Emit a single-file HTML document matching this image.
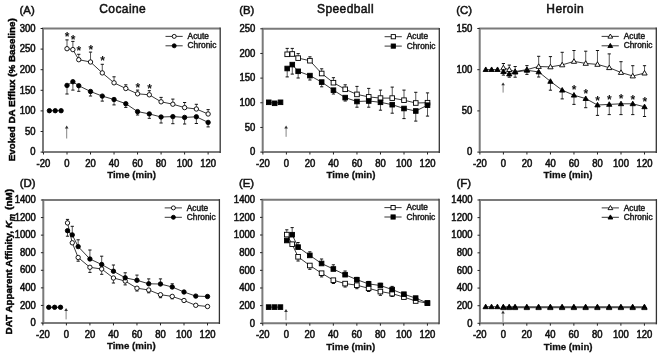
<!DOCTYPE html>
<html><head><meta charset="utf-8"><style>
html,body{margin:0;padding:0;background:#fff;width:662px;height:358px;overflow:hidden}
svg{display:block;will-change:transform;filter:blur(0.3px)}
text{font-family:"Liberation Sans", sans-serif;fill:#111}
.tk{font-size:10.2px;stroke:#111;stroke-width:0.55px}
.xl{font-size:9.7px;font-weight:bold;stroke:#111;stroke-width:0.3px}
.yl{font-size:9.85px;font-weight:bold;stroke:#000;stroke-width:0.45px;fill:#000}
.lt{font-size:11.4px;stroke:#111;stroke-width:0.5px}
.ti{font-size:12px;letter-spacing:0.4px;stroke:#111;stroke-width:0.5px}
.lg{font-size:8.35px;stroke:#222;stroke-width:0.45px}
.st{font-size:12px;font-weight:bold}
</style></head><body>
<svg width="662" height="358" viewBox="0 0 662 358">
<rect width="662" height="358" fill="#fff"/>
<path d="M220.20,28.50 H43.00 V152.10 H220.20" fill="none" stroke="#7a7a7a" stroke-width="2.0"/>
<line x1="220.20" y1="27.60" x2="220.20" y2="153.10" stroke="#333" stroke-width="1.3"/>
<line x1="40.60" y1="152.10" x2="43.00" y2="152.10" stroke="#222" stroke-width="1"/>
<text x="35.60" y="155.30" class="tk" text-anchor="end" textLength="5.28" lengthAdjust="spacingAndGlyphs">0</text>
<line x1="40.60" y1="131.50" x2="43.00" y2="131.50" stroke="#222" stroke-width="1"/>
<text x="35.60" y="134.70" class="tk" text-anchor="end" textLength="10.56" lengthAdjust="spacingAndGlyphs">50</text>
<line x1="40.60" y1="110.90" x2="43.00" y2="110.90" stroke="#222" stroke-width="1"/>
<text x="35.60" y="114.10" class="tk" text-anchor="end" textLength="15.85" lengthAdjust="spacingAndGlyphs">100</text>
<line x1="40.60" y1="90.30" x2="43.00" y2="90.30" stroke="#222" stroke-width="1"/>
<text x="35.60" y="93.50" class="tk" text-anchor="end" textLength="15.85" lengthAdjust="spacingAndGlyphs">150</text>
<line x1="40.60" y1="69.70" x2="43.00" y2="69.70" stroke="#222" stroke-width="1"/>
<text x="35.60" y="72.90" class="tk" text-anchor="end" textLength="15.85" lengthAdjust="spacingAndGlyphs">200</text>
<line x1="40.60" y1="49.10" x2="43.00" y2="49.10" stroke="#222" stroke-width="1"/>
<text x="35.60" y="52.30" class="tk" text-anchor="end" textLength="15.85" lengthAdjust="spacingAndGlyphs">250</text>
<line x1="40.60" y1="28.50" x2="43.00" y2="28.50" stroke="#222" stroke-width="1"/>
<text x="35.60" y="31.70" class="tk" text-anchor="end" textLength="15.85" lengthAdjust="spacingAndGlyphs">300</text>
<line x1="43.48" y1="152.10" x2="43.48" y2="154.50" stroke="#222" stroke-width="1"/>
<text x="43.48" y="166.80" class="tk" text-anchor="middle" textLength="13.73" lengthAdjust="spacingAndGlyphs">-20</text>
<line x1="67.00" y1="152.10" x2="67.00" y2="154.50" stroke="#222" stroke-width="1"/>
<text x="67.00" y="166.80" class="tk" text-anchor="middle" textLength="5.28" lengthAdjust="spacingAndGlyphs">0</text>
<line x1="90.52" y1="152.10" x2="90.52" y2="154.50" stroke="#222" stroke-width="1"/>
<text x="90.52" y="166.80" class="tk" text-anchor="middle" textLength="10.56" lengthAdjust="spacingAndGlyphs">20</text>
<line x1="114.04" y1="152.10" x2="114.04" y2="154.50" stroke="#222" stroke-width="1"/>
<text x="114.04" y="166.80" class="tk" text-anchor="middle" textLength="10.56" lengthAdjust="spacingAndGlyphs">40</text>
<line x1="137.56" y1="152.10" x2="137.56" y2="154.50" stroke="#222" stroke-width="1"/>
<text x="137.56" y="166.80" class="tk" text-anchor="middle" textLength="10.56" lengthAdjust="spacingAndGlyphs">60</text>
<line x1="161.08" y1="152.10" x2="161.08" y2="154.50" stroke="#222" stroke-width="1"/>
<text x="161.08" y="166.80" class="tk" text-anchor="middle" textLength="10.56" lengthAdjust="spacingAndGlyphs">80</text>
<line x1="184.60" y1="152.10" x2="184.60" y2="154.50" stroke="#222" stroke-width="1"/>
<text x="184.60" y="166.80" class="tk" text-anchor="middle" textLength="15.85" lengthAdjust="spacingAndGlyphs">100</text>
<line x1="208.12" y1="152.10" x2="208.12" y2="154.50" stroke="#222" stroke-width="1"/>
<text x="208.12" y="166.80" class="tk" text-anchor="middle" textLength="15.85" lengthAdjust="spacingAndGlyphs">120</text>
<text x="131.60" y="178.30" class="xl" text-anchor="middle">Time (min)</text>
<text x="19.50" y="13.60" class="lt">(A)</text>
<text x="122.70" y="12.7" class="ti" text-anchor="middle">Cocaine</text>
<line x1="66.70" y1="127.10" x2="66.70" y2="138.50" stroke="#777" stroke-width="0.9"/>
<path d="M64.90,128.40 L66.70,125.60 L68.50,128.40 Z" fill="#333"/>
<polyline points="67.00,85.40 72.88,81.70 78.76,85.70 90.52,91.50 102.28,96.10 114.04,99.50 125.80,103.70 137.56,111.60 149.32,113.90 161.08,117.00 172.84,116.60 184.60,117.40 196.36,116.80 208.12,122.40" fill="none" stroke="#222" stroke-width="0.9"/>
<polyline points="67.00,48.70 72.88,49.60 78.76,59.70 90.52,62.00 102.28,72.90 114.04,82.80 125.80,88.50 137.56,93.80 149.32,94.80 161.08,101.80 172.84,104.20 184.60,107.60 196.36,109.00 208.12,114.00" fill="none" stroke="#222" stroke-width="0.9"/>
<line x1="67.00" y1="85.40" x2="67.00" y2="94.00" stroke="#444" stroke-width="0.9"/>
<line x1="65.40" y1="94.00" x2="68.60" y2="94.00" stroke="#111" stroke-width="1"/>
<line x1="72.88" y1="81.70" x2="72.88" y2="90.10" stroke="#444" stroke-width="0.9"/>
<line x1="71.28" y1="90.10" x2="74.48" y2="90.10" stroke="#111" stroke-width="1"/>
<line x1="78.76" y1="85.70" x2="78.76" y2="91.30" stroke="#444" stroke-width="0.9"/>
<line x1="77.16" y1="91.30" x2="80.36" y2="91.30" stroke="#111" stroke-width="1"/>
<line x1="90.52" y1="91.50" x2="90.52" y2="96.00" stroke="#444" stroke-width="0.9"/>
<line x1="88.92" y1="96.00" x2="92.12" y2="96.00" stroke="#111" stroke-width="1"/>
<line x1="102.28" y1="96.10" x2="102.28" y2="101.10" stroke="#444" stroke-width="0.9"/>
<line x1="100.68" y1="101.10" x2="103.88" y2="101.10" stroke="#111" stroke-width="1"/>
<line x1="114.04" y1="99.50" x2="114.04" y2="104.90" stroke="#444" stroke-width="0.9"/>
<line x1="112.44" y1="104.90" x2="115.64" y2="104.90" stroke="#111" stroke-width="1"/>
<line x1="125.80" y1="103.70" x2="125.80" y2="107.40" stroke="#444" stroke-width="0.9"/>
<line x1="124.20" y1="107.40" x2="127.40" y2="107.40" stroke="#111" stroke-width="1"/>
<line x1="137.56" y1="111.60" x2="137.56" y2="115.00" stroke="#444" stroke-width="0.9"/>
<line x1="135.96" y1="115.00" x2="139.16" y2="115.00" stroke="#111" stroke-width="1"/>
<line x1="149.32" y1="113.90" x2="149.32" y2="118.30" stroke="#444" stroke-width="0.9"/>
<line x1="147.72" y1="118.30" x2="150.92" y2="118.30" stroke="#111" stroke-width="1"/>
<line x1="161.08" y1="117.00" x2="161.08" y2="123.00" stroke="#444" stroke-width="0.9"/>
<line x1="159.48" y1="123.00" x2="162.68" y2="123.00" stroke="#111" stroke-width="1"/>
<line x1="172.84" y1="116.60" x2="172.84" y2="123.70" stroke="#444" stroke-width="0.9"/>
<line x1="171.24" y1="123.70" x2="174.44" y2="123.70" stroke="#111" stroke-width="1"/>
<line x1="184.60" y1="117.40" x2="184.60" y2="124.00" stroke="#444" stroke-width="0.9"/>
<line x1="183.00" y1="124.00" x2="186.20" y2="124.00" stroke="#111" stroke-width="1"/>
<line x1="196.36" y1="116.80" x2="196.36" y2="123.50" stroke="#444" stroke-width="0.9"/>
<line x1="194.76" y1="123.50" x2="197.96" y2="123.50" stroke="#111" stroke-width="1"/>
<line x1="208.12" y1="122.40" x2="208.12" y2="126.90" stroke="#444" stroke-width="0.9"/>
<line x1="206.52" y1="126.90" x2="209.72" y2="126.90" stroke="#111" stroke-width="1"/>
<line x1="67.00" y1="48.70" x2="67.00" y2="39.90" stroke="#444" stroke-width="0.9"/>
<line x1="65.40" y1="39.90" x2="68.60" y2="39.90" stroke="#111" stroke-width="1"/>
<line x1="72.88" y1="49.60" x2="72.88" y2="41.40" stroke="#444" stroke-width="0.9"/>
<line x1="71.28" y1="41.40" x2="74.48" y2="41.40" stroke="#111" stroke-width="1"/>
<line x1="78.76" y1="59.70" x2="78.76" y2="54.30" stroke="#444" stroke-width="0.9"/>
<line x1="77.16" y1="54.30" x2="80.36" y2="54.30" stroke="#111" stroke-width="1"/>
<line x1="90.52" y1="62.00" x2="90.52" y2="52.10" stroke="#444" stroke-width="0.9"/>
<line x1="88.92" y1="52.10" x2="92.12" y2="52.10" stroke="#111" stroke-width="1"/>
<line x1="102.28" y1="72.90" x2="102.28" y2="64.30" stroke="#444" stroke-width="0.9"/>
<line x1="100.68" y1="64.30" x2="103.88" y2="64.30" stroke="#111" stroke-width="1"/>
<line x1="114.04" y1="82.80" x2="114.04" y2="76.80" stroke="#444" stroke-width="0.9"/>
<line x1="112.44" y1="76.80" x2="115.64" y2="76.80" stroke="#111" stroke-width="1"/>
<line x1="125.80" y1="88.50" x2="125.80" y2="84.80" stroke="#444" stroke-width="0.9"/>
<line x1="124.20" y1="84.80" x2="127.40" y2="84.80" stroke="#111" stroke-width="1"/>
<line x1="137.56" y1="93.80" x2="137.56" y2="90.10" stroke="#444" stroke-width="0.9"/>
<line x1="135.96" y1="90.10" x2="139.16" y2="90.10" stroke="#111" stroke-width="1"/>
<line x1="149.32" y1="94.80" x2="149.32" y2="90.70" stroke="#444" stroke-width="0.9"/>
<line x1="147.72" y1="90.70" x2="150.92" y2="90.70" stroke="#111" stroke-width="1"/>
<line x1="161.08" y1="101.80" x2="161.08" y2="97.40" stroke="#444" stroke-width="0.9"/>
<line x1="159.48" y1="97.40" x2="162.68" y2="97.40" stroke="#111" stroke-width="1"/>
<line x1="172.84" y1="104.20" x2="172.84" y2="99.10" stroke="#444" stroke-width="0.9"/>
<line x1="171.24" y1="99.10" x2="174.44" y2="99.10" stroke="#111" stroke-width="1"/>
<line x1="184.60" y1="107.60" x2="184.60" y2="102.50" stroke="#444" stroke-width="0.9"/>
<line x1="183.00" y1="102.50" x2="186.20" y2="102.50" stroke="#111" stroke-width="1"/>
<line x1="196.36" y1="109.00" x2="196.36" y2="104.30" stroke="#444" stroke-width="0.9"/>
<line x1="194.76" y1="104.30" x2="197.96" y2="104.30" stroke="#111" stroke-width="1"/>
<line x1="208.12" y1="114.00" x2="208.12" y2="109.60" stroke="#444" stroke-width="0.9"/>
<line x1="206.52" y1="109.60" x2="209.72" y2="109.60" stroke="#111" stroke-width="1"/>
<polyline points="49.36,110.70 55.24,110.70 61.12,110.70" fill="none" stroke="#222" stroke-width="0.9"/>
<circle cx="67.00" cy="48.70" r="2.20" fill="#fff" stroke="#000" stroke-width="0.9"/>
<circle cx="72.88" cy="49.60" r="2.20" fill="#fff" stroke="#000" stroke-width="0.9"/>
<circle cx="78.76" cy="59.70" r="2.20" fill="#fff" stroke="#000" stroke-width="0.9"/>
<circle cx="90.52" cy="62.00" r="2.20" fill="#fff" stroke="#000" stroke-width="0.9"/>
<circle cx="102.28" cy="72.90" r="2.20" fill="#fff" stroke="#000" stroke-width="0.9"/>
<circle cx="114.04" cy="82.80" r="2.20" fill="#fff" stroke="#000" stroke-width="0.9"/>
<circle cx="125.80" cy="88.50" r="2.20" fill="#fff" stroke="#000" stroke-width="0.9"/>
<circle cx="137.56" cy="93.80" r="2.20" fill="#fff" stroke="#000" stroke-width="0.9"/>
<circle cx="149.32" cy="94.80" r="2.20" fill="#fff" stroke="#000" stroke-width="0.9"/>
<circle cx="161.08" cy="101.80" r="2.20" fill="#fff" stroke="#000" stroke-width="0.9"/>
<circle cx="172.84" cy="104.20" r="2.20" fill="#fff" stroke="#000" stroke-width="0.9"/>
<circle cx="184.60" cy="107.60" r="2.20" fill="#fff" stroke="#000" stroke-width="0.9"/>
<circle cx="196.36" cy="109.00" r="2.20" fill="#fff" stroke="#000" stroke-width="0.9"/>
<circle cx="208.12" cy="114.00" r="2.20" fill="#fff" stroke="#000" stroke-width="0.9"/>
<circle cx="67.00" cy="85.40" r="2.20" fill="#000" stroke="#000" stroke-width="0.9"/>
<circle cx="72.88" cy="81.70" r="2.20" fill="#000" stroke="#000" stroke-width="0.9"/>
<circle cx="78.76" cy="85.70" r="2.20" fill="#000" stroke="#000" stroke-width="0.9"/>
<circle cx="90.52" cy="91.50" r="2.20" fill="#000" stroke="#000" stroke-width="0.9"/>
<circle cx="102.28" cy="96.10" r="2.20" fill="#000" stroke="#000" stroke-width="0.9"/>
<circle cx="114.04" cy="99.50" r="2.20" fill="#000" stroke="#000" stroke-width="0.9"/>
<circle cx="125.80" cy="103.70" r="2.20" fill="#000" stroke="#000" stroke-width="0.9"/>
<circle cx="137.56" cy="111.60" r="2.20" fill="#000" stroke="#000" stroke-width="0.9"/>
<circle cx="149.32" cy="113.90" r="2.20" fill="#000" stroke="#000" stroke-width="0.9"/>
<circle cx="161.08" cy="117.00" r="2.20" fill="#000" stroke="#000" stroke-width="0.9"/>
<circle cx="172.84" cy="116.60" r="2.20" fill="#000" stroke="#000" stroke-width="0.9"/>
<circle cx="184.60" cy="117.40" r="2.20" fill="#000" stroke="#000" stroke-width="0.9"/>
<circle cx="196.36" cy="116.80" r="2.20" fill="#000" stroke="#000" stroke-width="0.9"/>
<circle cx="208.12" cy="122.40" r="2.20" fill="#000" stroke="#000" stroke-width="0.9"/>
<circle cx="49.36" cy="110.70" r="2.20" fill="#000" stroke="#000" stroke-width="0.9"/>
<circle cx="55.24" cy="110.70" r="2.20" fill="#000" stroke="#000" stroke-width="0.9"/>
<circle cx="61.12" cy="110.70" r="2.20" fill="#000" stroke="#000" stroke-width="0.9"/>
<text x="67.20" y="40.50" class="st" text-anchor="middle">*</text>
<text x="73.08" y="43.50" class="st" text-anchor="middle">*</text>
<text x="78.96" y="54.60" class="st" text-anchor="middle">*</text>
<text x="90.72" y="54.20" class="st" text-anchor="middle">*</text>
<text x="102.48" y="65.20" class="st" text-anchor="middle">*</text>
<text x="137.76" y="91.50" class="st" text-anchor="middle">*</text>
<text x="149.52" y="93.40" class="st" text-anchor="middle">*</text>
<line x1="165.50" y1="36.40" x2="182.70" y2="36.40" stroke="#222" stroke-width="0.9"/>
<circle cx="174.20" cy="36.40" r="2.00" fill="#fff" stroke="#000" stroke-width="0.9"/>
<text x="187.60" y="39.00" class="lg">Acute</text>
<line x1="165.50" y1="45.80" x2="182.70" y2="45.80" stroke="#222" stroke-width="0.9"/>
<circle cx="174.20" cy="45.80" r="2.00" fill="#000" stroke="#000" stroke-width="0.9"/>
<text x="187.60" y="48.40" class="lg">Chronic</text>
<path d="M439.30,28.80 H262.70 V152.10 H439.30" fill="none" stroke="#7a7a7a" stroke-width="2.0"/>
<line x1="439.30" y1="27.90" x2="439.30" y2="153.10" stroke="#333" stroke-width="1.3"/>
<line x1="260.30" y1="152.10" x2="262.70" y2="152.10" stroke="#222" stroke-width="1"/>
<text x="255.30" y="155.30" class="tk" text-anchor="end" textLength="5.28" lengthAdjust="spacingAndGlyphs">0</text>
<line x1="260.30" y1="127.44" x2="262.70" y2="127.44" stroke="#222" stroke-width="1"/>
<text x="255.30" y="130.64" class="tk" text-anchor="end" textLength="10.56" lengthAdjust="spacingAndGlyphs">50</text>
<line x1="260.30" y1="102.78" x2="262.70" y2="102.78" stroke="#222" stroke-width="1"/>
<text x="255.30" y="105.98" class="tk" text-anchor="end" textLength="15.85" lengthAdjust="spacingAndGlyphs">100</text>
<line x1="260.30" y1="78.12" x2="262.70" y2="78.12" stroke="#222" stroke-width="1"/>
<text x="255.30" y="81.32" class="tk" text-anchor="end" textLength="15.85" lengthAdjust="spacingAndGlyphs">150</text>
<line x1="260.30" y1="53.46" x2="262.70" y2="53.46" stroke="#222" stroke-width="1"/>
<text x="255.30" y="56.66" class="tk" text-anchor="end" textLength="15.85" lengthAdjust="spacingAndGlyphs">200</text>
<line x1="260.30" y1="28.80" x2="262.70" y2="28.80" stroke="#222" stroke-width="1"/>
<text x="255.30" y="32.00" class="tk" text-anchor="end" textLength="15.85" lengthAdjust="spacingAndGlyphs">250</text>
<line x1="262.88" y1="152.10" x2="262.88" y2="154.50" stroke="#222" stroke-width="1"/>
<text x="262.88" y="166.80" class="tk" text-anchor="middle" textLength="13.73" lengthAdjust="spacingAndGlyphs">-20</text>
<line x1="286.40" y1="152.10" x2="286.40" y2="154.50" stroke="#222" stroke-width="1"/>
<text x="286.40" y="166.80" class="tk" text-anchor="middle" textLength="5.28" lengthAdjust="spacingAndGlyphs">0</text>
<line x1="309.92" y1="152.10" x2="309.92" y2="154.50" stroke="#222" stroke-width="1"/>
<text x="309.92" y="166.80" class="tk" text-anchor="middle" textLength="10.56" lengthAdjust="spacingAndGlyphs">20</text>
<line x1="333.44" y1="152.10" x2="333.44" y2="154.50" stroke="#222" stroke-width="1"/>
<text x="333.44" y="166.80" class="tk" text-anchor="middle" textLength="10.56" lengthAdjust="spacingAndGlyphs">40</text>
<line x1="356.96" y1="152.10" x2="356.96" y2="154.50" stroke="#222" stroke-width="1"/>
<text x="356.96" y="166.80" class="tk" text-anchor="middle" textLength="10.56" lengthAdjust="spacingAndGlyphs">60</text>
<line x1="380.48" y1="152.10" x2="380.48" y2="154.50" stroke="#222" stroke-width="1"/>
<text x="380.48" y="166.80" class="tk" text-anchor="middle" textLength="10.56" lengthAdjust="spacingAndGlyphs">80</text>
<line x1="404.00" y1="152.10" x2="404.00" y2="154.50" stroke="#222" stroke-width="1"/>
<text x="404.00" y="166.80" class="tk" text-anchor="middle" textLength="15.85" lengthAdjust="spacingAndGlyphs">100</text>
<line x1="427.52" y1="152.10" x2="427.52" y2="154.50" stroke="#222" stroke-width="1"/>
<text x="427.52" y="166.80" class="tk" text-anchor="middle" textLength="15.85" lengthAdjust="spacingAndGlyphs">120</text>
<text x="351.00" y="178.30" class="xl" text-anchor="middle">Time (min)</text>
<text x="239.20" y="13.60" class="lt">(B)</text>
<text x="345.50" y="12.7" class="ti" text-anchor="middle">Speedball</text>
<line x1="286.10" y1="127.10" x2="286.10" y2="136.80" stroke="#777" stroke-width="0.9"/>
<path d="M284.30,128.40 L286.10,125.60 L287.90,128.40 Z" fill="#333"/>
<polyline points="287.20,68.50 292.28,64.60 298.16,71.30 309.92,75.60 321.68,82.10 333.44,90.20 345.20,97.60 356.96,101.50 368.72,101.00 380.48,102.30 392.24,104.70 404.00,108.50 415.76,111.00 427.52,105.20" fill="none" stroke="#222" stroke-width="0.9"/>
<polyline points="287.20,54.30 292.28,54.00 298.16,58.10 309.92,60.70 321.68,73.50 333.44,82.70 345.20,89.30 356.96,94.40 368.72,96.90 380.48,98.10 392.24,98.10 404.00,100.20 415.76,103.00 427.52,102.70" fill="none" stroke="#222" stroke-width="0.9"/>
<line x1="287.20" y1="68.50" x2="287.20" y2="76.90" stroke="#444" stroke-width="0.9"/>
<line x1="285.60" y1="76.90" x2="288.80" y2="76.90" stroke="#111" stroke-width="1"/>
<line x1="292.28" y1="64.60" x2="292.28" y2="74.10" stroke="#444" stroke-width="0.9"/>
<line x1="290.68" y1="74.10" x2="293.88" y2="74.10" stroke="#111" stroke-width="1"/>
<line x1="298.16" y1="71.30" x2="298.16" y2="78.00" stroke="#444" stroke-width="0.9"/>
<line x1="296.56" y1="78.00" x2="299.76" y2="78.00" stroke="#111" stroke-width="1"/>
<line x1="309.92" y1="75.60" x2="309.92" y2="80.00" stroke="#444" stroke-width="0.9"/>
<line x1="308.32" y1="80.00" x2="311.52" y2="80.00" stroke="#111" stroke-width="1"/>
<line x1="321.68" y1="82.10" x2="321.68" y2="86.80" stroke="#444" stroke-width="0.9"/>
<line x1="320.08" y1="86.80" x2="323.28" y2="86.80" stroke="#111" stroke-width="1"/>
<line x1="333.44" y1="90.20" x2="333.44" y2="94.00" stroke="#444" stroke-width="0.9"/>
<line x1="331.84" y1="94.00" x2="335.04" y2="94.00" stroke="#111" stroke-width="1"/>
<line x1="345.20" y1="97.60" x2="345.20" y2="101.00" stroke="#444" stroke-width="0.9"/>
<line x1="343.60" y1="101.00" x2="346.80" y2="101.00" stroke="#111" stroke-width="1"/>
<line x1="356.96" y1="101.50" x2="356.96" y2="107.20" stroke="#444" stroke-width="0.9"/>
<line x1="355.36" y1="107.20" x2="358.56" y2="107.20" stroke="#111" stroke-width="1"/>
<line x1="368.72" y1="101.00" x2="368.72" y2="107.20" stroke="#444" stroke-width="0.9"/>
<line x1="367.12" y1="107.20" x2="370.32" y2="107.20" stroke="#111" stroke-width="1"/>
<line x1="380.48" y1="102.30" x2="380.48" y2="110.20" stroke="#444" stroke-width="0.9"/>
<line x1="378.88" y1="110.20" x2="382.08" y2="110.20" stroke="#111" stroke-width="1"/>
<line x1="392.24" y1="104.70" x2="392.24" y2="113.20" stroke="#444" stroke-width="0.9"/>
<line x1="390.64" y1="113.20" x2="393.84" y2="113.20" stroke="#111" stroke-width="1"/>
<line x1="404.00" y1="108.50" x2="404.00" y2="118.60" stroke="#444" stroke-width="0.9"/>
<line x1="402.40" y1="118.60" x2="405.60" y2="118.60" stroke="#111" stroke-width="1"/>
<line x1="415.76" y1="111.00" x2="415.76" y2="121.10" stroke="#444" stroke-width="0.9"/>
<line x1="414.16" y1="121.10" x2="417.36" y2="121.10" stroke="#111" stroke-width="1"/>
<line x1="427.52" y1="105.20" x2="427.52" y2="116.10" stroke="#444" stroke-width="0.9"/>
<line x1="425.92" y1="116.10" x2="429.12" y2="116.10" stroke="#111" stroke-width="1"/>
<line x1="287.20" y1="54.30" x2="287.20" y2="48.40" stroke="#444" stroke-width="0.9"/>
<line x1="285.60" y1="48.40" x2="288.80" y2="48.40" stroke="#111" stroke-width="1"/>
<line x1="292.28" y1="54.00" x2="292.28" y2="48.40" stroke="#444" stroke-width="0.9"/>
<line x1="290.68" y1="48.40" x2="293.88" y2="48.40" stroke="#111" stroke-width="1"/>
<line x1="298.16" y1="58.10" x2="298.16" y2="53.60" stroke="#444" stroke-width="0.9"/>
<line x1="296.56" y1="53.60" x2="299.76" y2="53.60" stroke="#111" stroke-width="1"/>
<line x1="309.92" y1="60.70" x2="309.92" y2="56.80" stroke="#444" stroke-width="0.9"/>
<line x1="308.32" y1="56.80" x2="311.52" y2="56.80" stroke="#111" stroke-width="1"/>
<line x1="321.68" y1="73.50" x2="321.68" y2="68.80" stroke="#444" stroke-width="0.9"/>
<line x1="320.08" y1="68.80" x2="323.28" y2="68.80" stroke="#111" stroke-width="1"/>
<line x1="333.44" y1="82.70" x2="333.44" y2="77.70" stroke="#444" stroke-width="0.9"/>
<line x1="331.84" y1="77.70" x2="335.04" y2="77.70" stroke="#111" stroke-width="1"/>
<line x1="345.20" y1="89.30" x2="345.20" y2="84.80" stroke="#444" stroke-width="0.9"/>
<line x1="343.60" y1="84.80" x2="346.80" y2="84.80" stroke="#111" stroke-width="1"/>
<line x1="356.96" y1="94.40" x2="356.96" y2="86.40" stroke="#444" stroke-width="0.9"/>
<line x1="355.36" y1="86.40" x2="358.56" y2="86.40" stroke="#111" stroke-width="1"/>
<line x1="368.72" y1="96.90" x2="368.72" y2="88.40" stroke="#444" stroke-width="0.9"/>
<line x1="367.12" y1="88.40" x2="370.32" y2="88.40" stroke="#111" stroke-width="1"/>
<line x1="380.48" y1="98.10" x2="380.48" y2="90.10" stroke="#444" stroke-width="0.9"/>
<line x1="378.88" y1="90.10" x2="382.08" y2="90.10" stroke="#111" stroke-width="1"/>
<line x1="392.24" y1="98.10" x2="392.24" y2="87.10" stroke="#444" stroke-width="0.9"/>
<line x1="390.64" y1="87.10" x2="393.84" y2="87.10" stroke="#111" stroke-width="1"/>
<line x1="404.00" y1="100.20" x2="404.00" y2="90.10" stroke="#444" stroke-width="0.9"/>
<line x1="402.40" y1="90.10" x2="405.60" y2="90.10" stroke="#111" stroke-width="1"/>
<line x1="415.76" y1="103.00" x2="415.76" y2="92.30" stroke="#444" stroke-width="0.9"/>
<line x1="414.16" y1="92.30" x2="417.36" y2="92.30" stroke="#111" stroke-width="1"/>
<line x1="427.52" y1="102.70" x2="427.52" y2="92.90" stroke="#444" stroke-width="0.9"/>
<line x1="425.92" y1="92.90" x2="429.12" y2="92.90" stroke="#111" stroke-width="1"/>
<polyline points="268.76,102.30 274.64,103.30 280.52,102.30" fill="none" stroke="#222" stroke-width="0.9"/>
<rect x="284.89" y="51.99" width="4.62" height="4.62" fill="#fff" stroke="#000" stroke-width="0.9"/>
<rect x="289.97" y="51.69" width="4.62" height="4.62" fill="#fff" stroke="#000" stroke-width="0.9"/>
<rect x="295.85" y="55.79" width="4.62" height="4.62" fill="#fff" stroke="#000" stroke-width="0.9"/>
<rect x="307.61" y="58.39" width="4.62" height="4.62" fill="#fff" stroke="#000" stroke-width="0.9"/>
<rect x="319.37" y="71.19" width="4.62" height="4.62" fill="#fff" stroke="#000" stroke-width="0.9"/>
<rect x="331.13" y="80.39" width="4.62" height="4.62" fill="#fff" stroke="#000" stroke-width="0.9"/>
<rect x="342.89" y="86.99" width="4.62" height="4.62" fill="#fff" stroke="#000" stroke-width="0.9"/>
<rect x="354.65" y="92.09" width="4.62" height="4.62" fill="#fff" stroke="#000" stroke-width="0.9"/>
<rect x="366.41" y="94.59" width="4.62" height="4.62" fill="#fff" stroke="#000" stroke-width="0.9"/>
<rect x="378.17" y="95.79" width="4.62" height="4.62" fill="#fff" stroke="#000" stroke-width="0.9"/>
<rect x="389.93" y="95.79" width="4.62" height="4.62" fill="#fff" stroke="#000" stroke-width="0.9"/>
<rect x="401.69" y="97.89" width="4.62" height="4.62" fill="#fff" stroke="#000" stroke-width="0.9"/>
<rect x="413.45" y="100.69" width="4.62" height="4.62" fill="#fff" stroke="#000" stroke-width="0.9"/>
<rect x="425.21" y="100.39" width="4.62" height="4.62" fill="#fff" stroke="#000" stroke-width="0.9"/>
<rect x="284.89" y="66.19" width="4.62" height="4.62" fill="#000" stroke="#000" stroke-width="0.9"/>
<rect x="289.97" y="62.29" width="4.62" height="4.62" fill="#000" stroke="#000" stroke-width="0.9"/>
<rect x="295.85" y="68.99" width="4.62" height="4.62" fill="#000" stroke="#000" stroke-width="0.9"/>
<rect x="307.61" y="73.29" width="4.62" height="4.62" fill="#000" stroke="#000" stroke-width="0.9"/>
<rect x="319.37" y="79.79" width="4.62" height="4.62" fill="#000" stroke="#000" stroke-width="0.9"/>
<rect x="331.13" y="87.89" width="4.62" height="4.62" fill="#000" stroke="#000" stroke-width="0.9"/>
<rect x="342.89" y="95.29" width="4.62" height="4.62" fill="#000" stroke="#000" stroke-width="0.9"/>
<rect x="354.65" y="99.19" width="4.62" height="4.62" fill="#000" stroke="#000" stroke-width="0.9"/>
<rect x="366.41" y="98.69" width="4.62" height="4.62" fill="#000" stroke="#000" stroke-width="0.9"/>
<rect x="378.17" y="99.99" width="4.62" height="4.62" fill="#000" stroke="#000" stroke-width="0.9"/>
<rect x="389.93" y="102.39" width="4.62" height="4.62" fill="#000" stroke="#000" stroke-width="0.9"/>
<rect x="401.69" y="106.19" width="4.62" height="4.62" fill="#000" stroke="#000" stroke-width="0.9"/>
<rect x="413.45" y="108.69" width="4.62" height="4.62" fill="#000" stroke="#000" stroke-width="0.9"/>
<rect x="425.21" y="102.89" width="4.62" height="4.62" fill="#000" stroke="#000" stroke-width="0.9"/>
<rect x="266.45" y="99.99" width="4.62" height="4.62" fill="#000" stroke="#000" stroke-width="0.9"/>
<rect x="272.33" y="100.99" width="4.62" height="4.62" fill="#000" stroke="#000" stroke-width="0.9"/>
<rect x="278.21" y="99.99" width="4.62" height="4.62" fill="#000" stroke="#000" stroke-width="0.9"/>
<line x1="384.60" y1="36.70" x2="401.80" y2="36.70" stroke="#222" stroke-width="0.9"/>
<rect x="391.20" y="34.60" width="4.20" height="4.20" fill="#fff" stroke="#000" stroke-width="0.9"/>
<text x="406.70" y="39.30" class="lg">Acute</text>
<line x1="384.60" y1="46.10" x2="401.80" y2="46.10" stroke="#222" stroke-width="0.9"/>
<rect x="391.20" y="44.00" width="4.20" height="4.20" fill="#000" stroke="#000" stroke-width="0.9"/>
<text x="406.70" y="48.70" class="lg">Chronic</text>
<path d="M656.30,28.50 H479.70 V152.10 H656.30" fill="none" stroke="#7a7a7a" stroke-width="2.0"/>
<line x1="656.30" y1="27.60" x2="656.30" y2="153.10" stroke="#333" stroke-width="1.3"/>
<line x1="477.30" y1="152.10" x2="479.70" y2="152.10" stroke="#222" stroke-width="1"/>
<text x="472.30" y="155.30" class="tk" text-anchor="end" textLength="5.28" lengthAdjust="spacingAndGlyphs">0</text>
<line x1="477.30" y1="110.90" x2="479.70" y2="110.90" stroke="#222" stroke-width="1"/>
<text x="472.30" y="114.10" class="tk" text-anchor="end" textLength="10.56" lengthAdjust="spacingAndGlyphs">50</text>
<line x1="477.30" y1="69.70" x2="479.70" y2="69.70" stroke="#222" stroke-width="1"/>
<text x="472.30" y="72.90" class="tk" text-anchor="end" textLength="15.85" lengthAdjust="spacingAndGlyphs">100</text>
<line x1="477.30" y1="28.50" x2="479.70" y2="28.50" stroke="#222" stroke-width="1"/>
<text x="472.30" y="31.70" class="tk" text-anchor="end" textLength="15.85" lengthAdjust="spacingAndGlyphs">150</text>
<line x1="479.88" y1="152.10" x2="479.88" y2="154.50" stroke="#222" stroke-width="1"/>
<text x="479.88" y="166.80" class="tk" text-anchor="middle" textLength="13.73" lengthAdjust="spacingAndGlyphs">-20</text>
<line x1="503.40" y1="152.10" x2="503.40" y2="154.50" stroke="#222" stroke-width="1"/>
<text x="503.40" y="166.80" class="tk" text-anchor="middle" textLength="5.28" lengthAdjust="spacingAndGlyphs">0</text>
<line x1="526.92" y1="152.10" x2="526.92" y2="154.50" stroke="#222" stroke-width="1"/>
<text x="526.92" y="166.80" class="tk" text-anchor="middle" textLength="10.56" lengthAdjust="spacingAndGlyphs">20</text>
<line x1="550.44" y1="152.10" x2="550.44" y2="154.50" stroke="#222" stroke-width="1"/>
<text x="550.44" y="166.80" class="tk" text-anchor="middle" textLength="10.56" lengthAdjust="spacingAndGlyphs">40</text>
<line x1="573.96" y1="152.10" x2="573.96" y2="154.50" stroke="#222" stroke-width="1"/>
<text x="573.96" y="166.80" class="tk" text-anchor="middle" textLength="10.56" lengthAdjust="spacingAndGlyphs">60</text>
<line x1="597.48" y1="152.10" x2="597.48" y2="154.50" stroke="#222" stroke-width="1"/>
<text x="597.48" y="166.80" class="tk" text-anchor="middle" textLength="10.56" lengthAdjust="spacingAndGlyphs">80</text>
<line x1="621.00" y1="152.10" x2="621.00" y2="154.50" stroke="#222" stroke-width="1"/>
<text x="621.00" y="166.80" class="tk" text-anchor="middle" textLength="15.85" lengthAdjust="spacingAndGlyphs">100</text>
<line x1="644.52" y1="152.10" x2="644.52" y2="154.50" stroke="#222" stroke-width="1"/>
<text x="644.52" y="166.80" class="tk" text-anchor="middle" textLength="15.85" lengthAdjust="spacingAndGlyphs">120</text>
<text x="568.00" y="178.30" class="xl" text-anchor="middle">Time (min)</text>
<text x="456.20" y="13.60" class="lt">(C)</text>
<text x="565.20" y="12.7" class="ti" text-anchor="middle">Heroin</text>
<line x1="503.10" y1="83.90" x2="503.10" y2="92.60" stroke="#777" stroke-width="0.9"/>
<path d="M501.30,85.20 L503.10,82.40 L504.90,85.20 Z" fill="#333"/>
<polyline points="503.40,71.60 509.28,74.00 515.16,72.10 526.92,70.30 538.68,71.90 550.44,81.40 562.20,90.20 573.96,95.20 585.72,98.60 597.48,105.00 609.24,104.40 621.00,103.80 632.76,103.80 644.52,106.80" fill="none" stroke="#222" stroke-width="0.9"/>
<polyline points="503.40,67.90 509.28,69.60 515.16,71.60 526.92,69.60 538.68,66.50 550.44,66.90 562.20,64.90 573.96,61.40 585.72,63.40 597.48,64.40 609.24,67.70 621.00,72.50 632.76,76.00 644.52,73.10" fill="none" stroke="#222" stroke-width="0.9"/>
<line x1="503.40" y1="71.60" x2="503.40" y2="75.10" stroke="#444" stroke-width="0.9"/>
<line x1="501.80" y1="75.10" x2="505.00" y2="75.10" stroke="#111" stroke-width="1"/>
<line x1="509.28" y1="74.00" x2="509.28" y2="77.20" stroke="#444" stroke-width="0.9"/>
<line x1="507.68" y1="77.20" x2="510.88" y2="77.20" stroke="#111" stroke-width="1"/>
<line x1="515.16" y1="72.10" x2="515.16" y2="77.20" stroke="#444" stroke-width="0.9"/>
<line x1="513.56" y1="77.20" x2="516.76" y2="77.20" stroke="#111" stroke-width="1"/>
<line x1="526.92" y1="70.30" x2="526.92" y2="74.40" stroke="#444" stroke-width="0.9"/>
<line x1="525.32" y1="74.40" x2="528.52" y2="74.40" stroke="#111" stroke-width="1"/>
<line x1="538.68" y1="71.90" x2="538.68" y2="77.00" stroke="#444" stroke-width="0.9"/>
<line x1="537.08" y1="77.00" x2="540.28" y2="77.00" stroke="#111" stroke-width="1"/>
<line x1="550.44" y1="81.40" x2="550.44" y2="90.20" stroke="#444" stroke-width="0.9"/>
<line x1="548.84" y1="90.20" x2="552.04" y2="90.20" stroke="#111" stroke-width="1"/>
<line x1="562.20" y1="90.20" x2="562.20" y2="98.90" stroke="#444" stroke-width="0.9"/>
<line x1="560.60" y1="98.90" x2="563.80" y2="98.90" stroke="#111" stroke-width="1"/>
<line x1="573.96" y1="95.20" x2="573.96" y2="104.40" stroke="#444" stroke-width="0.9"/>
<line x1="572.36" y1="104.40" x2="575.56" y2="104.40" stroke="#111" stroke-width="1"/>
<line x1="585.72" y1="98.60" x2="585.72" y2="107.70" stroke="#444" stroke-width="0.9"/>
<line x1="584.12" y1="107.70" x2="587.32" y2="107.70" stroke="#111" stroke-width="1"/>
<line x1="597.48" y1="105.00" x2="597.48" y2="115.40" stroke="#444" stroke-width="0.9"/>
<line x1="595.88" y1="115.40" x2="599.08" y2="115.40" stroke="#111" stroke-width="1"/>
<line x1="609.24" y1="104.40" x2="609.24" y2="114.60" stroke="#444" stroke-width="0.9"/>
<line x1="607.64" y1="114.60" x2="610.84" y2="114.60" stroke="#111" stroke-width="1"/>
<line x1="621.00" y1="103.80" x2="621.00" y2="114.60" stroke="#444" stroke-width="0.9"/>
<line x1="619.40" y1="114.60" x2="622.60" y2="114.60" stroke="#111" stroke-width="1"/>
<line x1="632.76" y1="103.80" x2="632.76" y2="114.60" stroke="#444" stroke-width="0.9"/>
<line x1="631.16" y1="114.60" x2="634.36" y2="114.60" stroke="#111" stroke-width="1"/>
<line x1="644.52" y1="106.80" x2="644.52" y2="116.50" stroke="#444" stroke-width="0.9"/>
<line x1="642.92" y1="116.50" x2="646.12" y2="116.50" stroke="#111" stroke-width="1"/>
<line x1="503.40" y1="67.90" x2="503.40" y2="63.50" stroke="#444" stroke-width="0.9"/>
<line x1="501.80" y1="63.50" x2="505.00" y2="63.50" stroke="#111" stroke-width="1"/>
<line x1="509.28" y1="69.60" x2="509.28" y2="65.10" stroke="#444" stroke-width="0.9"/>
<line x1="507.68" y1="65.10" x2="510.88" y2="65.10" stroke="#111" stroke-width="1"/>
<line x1="515.16" y1="71.60" x2="515.16" y2="66.50" stroke="#444" stroke-width="0.9"/>
<line x1="513.56" y1="66.50" x2="516.76" y2="66.50" stroke="#111" stroke-width="1"/>
<line x1="526.92" y1="69.60" x2="526.92" y2="65.60" stroke="#444" stroke-width="0.9"/>
<line x1="525.32" y1="65.60" x2="528.52" y2="65.60" stroke="#111" stroke-width="1"/>
<line x1="538.68" y1="66.50" x2="538.68" y2="56.30" stroke="#444" stroke-width="0.9"/>
<line x1="537.08" y1="56.30" x2="540.28" y2="56.30" stroke="#111" stroke-width="1"/>
<line x1="550.44" y1="66.90" x2="550.44" y2="56.60" stroke="#444" stroke-width="0.9"/>
<line x1="548.84" y1="56.60" x2="552.04" y2="56.60" stroke="#111" stroke-width="1"/>
<line x1="562.20" y1="64.90" x2="562.20" y2="52.30" stroke="#444" stroke-width="0.9"/>
<line x1="560.60" y1="52.30" x2="563.80" y2="52.30" stroke="#111" stroke-width="1"/>
<line x1="573.96" y1="61.40" x2="573.96" y2="50.50" stroke="#444" stroke-width="0.9"/>
<line x1="572.36" y1="50.50" x2="575.56" y2="50.50" stroke="#111" stroke-width="1"/>
<line x1="585.72" y1="63.40" x2="585.72" y2="51.20" stroke="#444" stroke-width="0.9"/>
<line x1="584.12" y1="51.20" x2="587.32" y2="51.20" stroke="#111" stroke-width="1"/>
<line x1="597.48" y1="64.40" x2="597.48" y2="50.50" stroke="#444" stroke-width="0.9"/>
<line x1="595.88" y1="50.50" x2="599.08" y2="50.50" stroke="#111" stroke-width="1"/>
<line x1="609.24" y1="67.70" x2="609.24" y2="53.90" stroke="#444" stroke-width="0.9"/>
<line x1="607.64" y1="53.90" x2="610.84" y2="53.90" stroke="#111" stroke-width="1"/>
<line x1="621.00" y1="72.50" x2="621.00" y2="61.70" stroke="#444" stroke-width="0.9"/>
<line x1="619.40" y1="61.70" x2="622.60" y2="61.70" stroke="#111" stroke-width="1"/>
<line x1="632.76" y1="76.00" x2="632.76" y2="65.70" stroke="#444" stroke-width="0.9"/>
<line x1="631.16" y1="65.70" x2="634.36" y2="65.70" stroke="#111" stroke-width="1"/>
<line x1="644.52" y1="73.10" x2="644.52" y2="65.70" stroke="#444" stroke-width="0.9"/>
<line x1="642.92" y1="65.70" x2="646.12" y2="65.70" stroke="#111" stroke-width="1"/>
<polyline points="485.76,69.60 491.64,69.60 497.52,69.60" fill="none" stroke="#222" stroke-width="0.9"/>
<polygon points="503.40,65.26 506.04,69.80 500.76,69.80" fill="#fff" stroke="#000" stroke-width="0.9" stroke-linejoin="miter"/>
<polygon points="509.28,66.96 511.92,71.50 506.64,71.50" fill="#fff" stroke="#000" stroke-width="0.9" stroke-linejoin="miter"/>
<polygon points="515.16,68.96 517.80,73.50 512.52,73.50" fill="#fff" stroke="#000" stroke-width="0.9" stroke-linejoin="miter"/>
<polygon points="526.92,66.96 529.56,71.50 524.28,71.50" fill="#fff" stroke="#000" stroke-width="0.9" stroke-linejoin="miter"/>
<polygon points="538.68,63.86 541.32,68.40 536.04,68.40" fill="#fff" stroke="#000" stroke-width="0.9" stroke-linejoin="miter"/>
<polygon points="550.44,64.26 553.08,68.80 547.80,68.80" fill="#fff" stroke="#000" stroke-width="0.9" stroke-linejoin="miter"/>
<polygon points="562.20,62.26 564.84,66.80 559.56,66.80" fill="#fff" stroke="#000" stroke-width="0.9" stroke-linejoin="miter"/>
<polygon points="573.96,58.76 576.60,63.30 571.32,63.30" fill="#fff" stroke="#000" stroke-width="0.9" stroke-linejoin="miter"/>
<polygon points="585.72,60.76 588.36,65.30 583.08,65.30" fill="#fff" stroke="#000" stroke-width="0.9" stroke-linejoin="miter"/>
<polygon points="597.48,61.76 600.12,66.30 594.84,66.30" fill="#fff" stroke="#000" stroke-width="0.9" stroke-linejoin="miter"/>
<polygon points="609.24,65.06 611.88,69.60 606.60,69.60" fill="#fff" stroke="#000" stroke-width="0.9" stroke-linejoin="miter"/>
<polygon points="621.00,69.86 623.64,74.40 618.36,74.40" fill="#fff" stroke="#000" stroke-width="0.9" stroke-linejoin="miter"/>
<polygon points="632.76,73.36 635.40,77.90 630.12,77.90" fill="#fff" stroke="#000" stroke-width="0.9" stroke-linejoin="miter"/>
<polygon points="644.52,70.46 647.16,75.00 641.88,75.00" fill="#fff" stroke="#000" stroke-width="0.9" stroke-linejoin="miter"/>
<polygon points="503.40,68.96 506.04,73.50 500.76,73.50" fill="#000" stroke="#000" stroke-width="0.9" stroke-linejoin="miter"/>
<polygon points="509.28,71.36 511.92,75.90 506.64,75.90" fill="#000" stroke="#000" stroke-width="0.9" stroke-linejoin="miter"/>
<polygon points="515.16,69.46 517.80,74.00 512.52,74.00" fill="#000" stroke="#000" stroke-width="0.9" stroke-linejoin="miter"/>
<polygon points="526.92,67.66 529.56,72.20 524.28,72.20" fill="#000" stroke="#000" stroke-width="0.9" stroke-linejoin="miter"/>
<polygon points="538.68,69.26 541.32,73.80 536.04,73.80" fill="#000" stroke="#000" stroke-width="0.9" stroke-linejoin="miter"/>
<polygon points="550.44,78.76 553.08,83.30 547.80,83.30" fill="#000" stroke="#000" stroke-width="0.9" stroke-linejoin="miter"/>
<polygon points="562.20,87.56 564.84,92.10 559.56,92.10" fill="#000" stroke="#000" stroke-width="0.9" stroke-linejoin="miter"/>
<polygon points="573.96,92.56 576.60,97.10 571.32,97.10" fill="#000" stroke="#000" stroke-width="0.9" stroke-linejoin="miter"/>
<polygon points="585.72,95.96 588.36,100.50 583.08,100.50" fill="#000" stroke="#000" stroke-width="0.9" stroke-linejoin="miter"/>
<polygon points="597.48,102.36 600.12,106.90 594.84,106.90" fill="#000" stroke="#000" stroke-width="0.9" stroke-linejoin="miter"/>
<polygon points="609.24,101.76 611.88,106.30 606.60,106.30" fill="#000" stroke="#000" stroke-width="0.9" stroke-linejoin="miter"/>
<polygon points="621.00,101.16 623.64,105.70 618.36,105.70" fill="#000" stroke="#000" stroke-width="0.9" stroke-linejoin="miter"/>
<polygon points="632.76,101.16 635.40,105.70 630.12,105.70" fill="#000" stroke="#000" stroke-width="0.9" stroke-linejoin="miter"/>
<polygon points="644.52,104.16 647.16,108.70 641.88,108.70" fill="#000" stroke="#000" stroke-width="0.9" stroke-linejoin="miter"/>
<polygon points="485.76,66.96 488.40,71.50 483.12,71.50" fill="#000" stroke="#000" stroke-width="0.9" stroke-linejoin="miter"/>
<polygon points="491.64,66.96 494.28,71.50 489.00,71.50" fill="#000" stroke="#000" stroke-width="0.9" stroke-linejoin="miter"/>
<polygon points="497.52,66.96 500.16,71.50 494.88,71.50" fill="#000" stroke="#000" stroke-width="0.9" stroke-linejoin="miter"/>
<text x="574.16" y="93.90" class="st" text-anchor="middle">*</text>
<text x="585.92" y="97.60" class="st" text-anchor="middle">*</text>
<text x="597.68" y="104.60" class="st" text-anchor="middle">*</text>
<text x="609.44" y="103.80" class="st" text-anchor="middle">*</text>
<text x="621.20" y="103.40" class="st" text-anchor="middle">*</text>
<text x="632.96" y="103.80" class="st" text-anchor="middle">*</text>
<text x="644.72" y="105.70" class="st" text-anchor="middle">*</text>
<line x1="601.60" y1="36.40" x2="618.80" y2="36.40" stroke="#222" stroke-width="0.9"/>
<polygon points="610.30,34.00 612.70,38.13 607.90,38.13" fill="#fff" stroke="#000" stroke-width="0.9" stroke-linejoin="miter"/>
<text x="623.70" y="39.00" class="lg">Acute</text>
<line x1="601.60" y1="45.80" x2="618.80" y2="45.80" stroke="#222" stroke-width="0.9"/>
<polygon points="610.30,43.40 612.70,47.53 607.90,47.53" fill="#000" stroke="#000" stroke-width="0.9" stroke-linejoin="miter"/>
<text x="623.70" y="48.40" class="lg">Chronic</text>
<path d="M219.40,200.00 H43.30 V323.00 H219.40" fill="none" stroke="#7a7a7a" stroke-width="2.0"/>
<line x1="219.40" y1="199.10" x2="219.40" y2="324.00" stroke="#333" stroke-width="1.3"/>
<line x1="40.90" y1="323.00" x2="43.30" y2="323.00" stroke="#222" stroke-width="1"/>
<text x="35.90" y="326.20" class="tk" text-anchor="end" textLength="5.28" lengthAdjust="spacingAndGlyphs">0</text>
<line x1="40.90" y1="305.43" x2="43.30" y2="305.43" stroke="#222" stroke-width="1"/>
<text x="35.90" y="308.63" class="tk" text-anchor="end" textLength="15.85" lengthAdjust="spacingAndGlyphs">200</text>
<line x1="40.90" y1="287.86" x2="43.30" y2="287.86" stroke="#222" stroke-width="1"/>
<text x="35.90" y="291.06" class="tk" text-anchor="end" textLength="15.85" lengthAdjust="spacingAndGlyphs">400</text>
<line x1="40.90" y1="270.29" x2="43.30" y2="270.29" stroke="#222" stroke-width="1"/>
<text x="35.90" y="273.49" class="tk" text-anchor="end" textLength="15.85" lengthAdjust="spacingAndGlyphs">600</text>
<line x1="40.90" y1="252.71" x2="43.30" y2="252.71" stroke="#222" stroke-width="1"/>
<text x="35.90" y="255.91" class="tk" text-anchor="end" textLength="15.85" lengthAdjust="spacingAndGlyphs">800</text>
<line x1="40.90" y1="235.14" x2="43.30" y2="235.14" stroke="#222" stroke-width="1"/>
<text x="35.90" y="238.34" class="tk" text-anchor="end" textLength="21.13" lengthAdjust="spacingAndGlyphs">1000</text>
<line x1="40.90" y1="217.57" x2="43.30" y2="217.57" stroke="#222" stroke-width="1"/>
<text x="35.90" y="220.77" class="tk" text-anchor="end" textLength="21.13" lengthAdjust="spacingAndGlyphs">1200</text>
<line x1="40.90" y1="200.00" x2="43.30" y2="200.00" stroke="#222" stroke-width="1"/>
<text x="35.90" y="203.20" class="tk" text-anchor="end" textLength="21.13" lengthAdjust="spacingAndGlyphs">1400</text>
<line x1="42.88" y1="323.00" x2="42.88" y2="325.40" stroke="#222" stroke-width="1"/>
<text x="42.88" y="337.70" class="tk" text-anchor="middle" textLength="13.73" lengthAdjust="spacingAndGlyphs">-20</text>
<line x1="66.40" y1="323.00" x2="66.40" y2="325.40" stroke="#222" stroke-width="1"/>
<text x="66.40" y="337.70" class="tk" text-anchor="middle" textLength="5.28" lengthAdjust="spacingAndGlyphs">0</text>
<line x1="89.92" y1="323.00" x2="89.92" y2="325.40" stroke="#222" stroke-width="1"/>
<text x="89.92" y="337.70" class="tk" text-anchor="middle" textLength="10.56" lengthAdjust="spacingAndGlyphs">20</text>
<line x1="113.44" y1="323.00" x2="113.44" y2="325.40" stroke="#222" stroke-width="1"/>
<text x="113.44" y="337.70" class="tk" text-anchor="middle" textLength="10.56" lengthAdjust="spacingAndGlyphs">40</text>
<line x1="136.96" y1="323.00" x2="136.96" y2="325.40" stroke="#222" stroke-width="1"/>
<text x="136.96" y="337.70" class="tk" text-anchor="middle" textLength="10.56" lengthAdjust="spacingAndGlyphs">60</text>
<line x1="160.48" y1="323.00" x2="160.48" y2="325.40" stroke="#222" stroke-width="1"/>
<text x="160.48" y="337.70" class="tk" text-anchor="middle" textLength="10.56" lengthAdjust="spacingAndGlyphs">80</text>
<line x1="184.00" y1="323.00" x2="184.00" y2="325.40" stroke="#222" stroke-width="1"/>
<text x="184.00" y="337.70" class="tk" text-anchor="middle" textLength="15.85" lengthAdjust="spacingAndGlyphs">100</text>
<line x1="207.52" y1="323.00" x2="207.52" y2="325.40" stroke="#222" stroke-width="1"/>
<text x="207.52" y="337.70" class="tk" text-anchor="middle" textLength="15.85" lengthAdjust="spacingAndGlyphs">120</text>
<text x="131.35" y="349.20" class="xl" text-anchor="middle">Time (min)</text>
<text x="19.80" y="187.10" class="lt">(D)</text>
<line x1="66.10" y1="309.60" x2="66.10" y2="319.40" stroke="#777" stroke-width="0.9"/>
<path d="M64.30,310.90 L66.10,308.10 L67.90,310.90 Z" fill="#333"/>
<polyline points="67.50,230.70 72.28,234.90 78.16,246.60 89.92,259.00 101.68,264.50 113.44,271.20 125.20,277.80 136.96,280.30 148.72,283.80 160.48,284.00 172.24,287.00 184.00,292.00 195.76,296.10 207.52,296.50" fill="none" stroke="#222" stroke-width="0.9"/>
<polyline points="67.50,222.90 72.28,242.80 78.16,257.50 89.92,267.30 101.68,269.00 113.44,278.00 125.20,281.00 136.96,288.20 148.72,290.00 160.48,294.70 172.24,296.40 184.00,300.50 195.76,305.30 207.52,306.50" fill="none" stroke="#222" stroke-width="0.9"/>
<line x1="67.50" y1="230.70" x2="67.50" y2="236.20" stroke="#444" stroke-width="0.9"/>
<line x1="65.90" y1="236.20" x2="69.10" y2="236.20" stroke="#111" stroke-width="1"/>
<line x1="72.28" y1="234.90" x2="72.28" y2="226.30" stroke="#444" stroke-width="0.9"/>
<line x1="70.68" y1="226.30" x2="73.88" y2="226.30" stroke="#111" stroke-width="1"/>
<line x1="78.16" y1="246.60" x2="78.16" y2="239.80" stroke="#444" stroke-width="0.9"/>
<line x1="76.56" y1="239.80" x2="79.76" y2="239.80" stroke="#111" stroke-width="1"/>
<line x1="89.92" y1="259.00" x2="89.92" y2="250.00" stroke="#444" stroke-width="0.9"/>
<line x1="88.32" y1="250.00" x2="91.52" y2="250.00" stroke="#111" stroke-width="1"/>
<line x1="101.68" y1="264.50" x2="101.68" y2="256.20" stroke="#444" stroke-width="0.9"/>
<line x1="100.08" y1="256.20" x2="103.28" y2="256.20" stroke="#111" stroke-width="1"/>
<line x1="113.44" y1="271.20" x2="113.44" y2="265.00" stroke="#444" stroke-width="0.9"/>
<line x1="111.84" y1="265.00" x2="115.04" y2="265.00" stroke="#111" stroke-width="1"/>
<line x1="125.20" y1="277.80" x2="125.20" y2="272.80" stroke="#444" stroke-width="0.9"/>
<line x1="123.60" y1="272.80" x2="126.80" y2="272.80" stroke="#111" stroke-width="1"/>
<line x1="136.96" y1="280.30" x2="136.96" y2="275.10" stroke="#444" stroke-width="0.9"/>
<line x1="135.36" y1="275.10" x2="138.56" y2="275.10" stroke="#111" stroke-width="1"/>
<line x1="148.72" y1="283.80" x2="148.72" y2="278.90" stroke="#444" stroke-width="0.9"/>
<line x1="147.12" y1="278.90" x2="150.32" y2="278.90" stroke="#111" stroke-width="1"/>
<line x1="160.48" y1="284.00" x2="160.48" y2="278.90" stroke="#444" stroke-width="0.9"/>
<line x1="158.88" y1="278.90" x2="162.08" y2="278.90" stroke="#111" stroke-width="1"/>
<line x1="172.24" y1="287.00" x2="172.24" y2="283.80" stroke="#444" stroke-width="0.9"/>
<line x1="170.64" y1="283.80" x2="173.84" y2="283.80" stroke="#111" stroke-width="1"/>
<line x1="67.50" y1="222.90" x2="67.50" y2="219.40" stroke="#444" stroke-width="0.9"/>
<line x1="65.90" y1="219.40" x2="69.10" y2="219.40" stroke="#111" stroke-width="1"/>
<line x1="78.16" y1="257.50" x2="78.16" y2="261.20" stroke="#444" stroke-width="0.9"/>
<line x1="76.56" y1="261.20" x2="79.76" y2="261.20" stroke="#111" stroke-width="1"/>
<line x1="89.92" y1="267.30" x2="89.92" y2="272.40" stroke="#444" stroke-width="0.9"/>
<line x1="88.32" y1="272.40" x2="91.52" y2="272.40" stroke="#111" stroke-width="1"/>
<line x1="101.68" y1="269.00" x2="101.68" y2="274.30" stroke="#444" stroke-width="0.9"/>
<line x1="100.08" y1="274.30" x2="103.28" y2="274.30" stroke="#111" stroke-width="1"/>
<line x1="113.44" y1="278.00" x2="113.44" y2="283.00" stroke="#444" stroke-width="0.9"/>
<line x1="111.84" y1="283.00" x2="115.04" y2="283.00" stroke="#111" stroke-width="1"/>
<line x1="125.20" y1="281.00" x2="125.20" y2="284.90" stroke="#444" stroke-width="0.9"/>
<line x1="123.60" y1="284.90" x2="126.80" y2="284.90" stroke="#111" stroke-width="1"/>
<line x1="136.96" y1="288.20" x2="136.96" y2="291.00" stroke="#444" stroke-width="0.9"/>
<line x1="135.36" y1="291.00" x2="138.56" y2="291.00" stroke="#111" stroke-width="1"/>
<line x1="148.72" y1="290.00" x2="148.72" y2="292.80" stroke="#444" stroke-width="0.9"/>
<line x1="147.12" y1="292.80" x2="150.32" y2="292.80" stroke="#111" stroke-width="1"/>
<line x1="160.48" y1="294.70" x2="160.48" y2="297.70" stroke="#444" stroke-width="0.9"/>
<line x1="158.88" y1="297.70" x2="162.08" y2="297.70" stroke="#111" stroke-width="1"/>
<line x1="172.24" y1="296.40" x2="172.24" y2="298.80" stroke="#444" stroke-width="0.9"/>
<line x1="170.64" y1="298.80" x2="173.84" y2="298.80" stroke="#111" stroke-width="1"/>
<polyline points="48.76,307.30 54.64,307.30 60.52,307.30" fill="none" stroke="#222" stroke-width="0.9"/>
<circle cx="67.50" cy="222.90" r="2.20" fill="#fff" stroke="#000" stroke-width="0.9"/>
<circle cx="72.28" cy="242.80" r="2.20" fill="#fff" stroke="#000" stroke-width="0.9"/>
<circle cx="78.16" cy="257.50" r="2.20" fill="#fff" stroke="#000" stroke-width="0.9"/>
<circle cx="89.92" cy="267.30" r="2.20" fill="#fff" stroke="#000" stroke-width="0.9"/>
<circle cx="101.68" cy="269.00" r="2.20" fill="#fff" stroke="#000" stroke-width="0.9"/>
<circle cx="113.44" cy="278.00" r="2.20" fill="#fff" stroke="#000" stroke-width="0.9"/>
<circle cx="125.20" cy="281.00" r="2.20" fill="#fff" stroke="#000" stroke-width="0.9"/>
<circle cx="136.96" cy="288.20" r="2.20" fill="#fff" stroke="#000" stroke-width="0.9"/>
<circle cx="148.72" cy="290.00" r="2.20" fill="#fff" stroke="#000" stroke-width="0.9"/>
<circle cx="160.48" cy="294.70" r="2.20" fill="#fff" stroke="#000" stroke-width="0.9"/>
<circle cx="172.24" cy="296.40" r="2.20" fill="#fff" stroke="#000" stroke-width="0.9"/>
<circle cx="184.00" cy="300.50" r="2.20" fill="#fff" stroke="#000" stroke-width="0.9"/>
<circle cx="195.76" cy="305.30" r="2.20" fill="#fff" stroke="#000" stroke-width="0.9"/>
<circle cx="207.52" cy="306.50" r="2.20" fill="#fff" stroke="#000" stroke-width="0.9"/>
<circle cx="67.50" cy="230.70" r="2.20" fill="#000" stroke="#000" stroke-width="0.9"/>
<circle cx="72.28" cy="234.90" r="2.20" fill="#000" stroke="#000" stroke-width="0.9"/>
<circle cx="78.16" cy="246.60" r="2.20" fill="#000" stroke="#000" stroke-width="0.9"/>
<circle cx="89.92" cy="259.00" r="2.20" fill="#000" stroke="#000" stroke-width="0.9"/>
<circle cx="101.68" cy="264.50" r="2.20" fill="#000" stroke="#000" stroke-width="0.9"/>
<circle cx="113.44" cy="271.20" r="2.20" fill="#000" stroke="#000" stroke-width="0.9"/>
<circle cx="125.20" cy="277.80" r="2.20" fill="#000" stroke="#000" stroke-width="0.9"/>
<circle cx="136.96" cy="280.30" r="2.20" fill="#000" stroke="#000" stroke-width="0.9"/>
<circle cx="148.72" cy="283.80" r="2.20" fill="#000" stroke="#000" stroke-width="0.9"/>
<circle cx="160.48" cy="284.00" r="2.20" fill="#000" stroke="#000" stroke-width="0.9"/>
<circle cx="172.24" cy="287.00" r="2.20" fill="#000" stroke="#000" stroke-width="0.9"/>
<circle cx="184.00" cy="292.00" r="2.20" fill="#000" stroke="#000" stroke-width="0.9"/>
<circle cx="195.76" cy="296.10" r="2.20" fill="#000" stroke="#000" stroke-width="0.9"/>
<circle cx="207.52" cy="296.50" r="2.20" fill="#000" stroke="#000" stroke-width="0.9"/>
<circle cx="48.76" cy="307.30" r="2.20" fill="#000" stroke="#000" stroke-width="0.9"/>
<circle cx="54.64" cy="307.30" r="2.20" fill="#000" stroke="#000" stroke-width="0.9"/>
<circle cx="60.52" cy="307.30" r="2.20" fill="#000" stroke="#000" stroke-width="0.9"/>
<line x1="164.70" y1="207.90" x2="181.90" y2="207.90" stroke="#222" stroke-width="0.9"/>
<circle cx="173.40" cy="207.90" r="2.00" fill="#fff" stroke="#000" stroke-width="0.9"/>
<text x="186.80" y="210.50" class="lg">Acute</text>
<line x1="164.70" y1="217.30" x2="181.90" y2="217.30" stroke="#222" stroke-width="0.9"/>
<circle cx="173.40" cy="217.30" r="2.00" fill="#000" stroke="#000" stroke-width="0.9"/>
<text x="186.80" y="219.90" class="lg">Chronic</text>
<path d="M439.10,199.70 H262.40 V323.30 H439.10" fill="none" stroke="#7a7a7a" stroke-width="2.0"/>
<line x1="439.10" y1="198.80" x2="439.10" y2="324.30" stroke="#333" stroke-width="1.3"/>
<line x1="260.00" y1="323.30" x2="262.40" y2="323.30" stroke="#222" stroke-width="1"/>
<text x="255.00" y="326.50" class="tk" text-anchor="end" textLength="5.28" lengthAdjust="spacingAndGlyphs">0</text>
<line x1="260.00" y1="305.64" x2="262.40" y2="305.64" stroke="#222" stroke-width="1"/>
<text x="255.00" y="308.84" class="tk" text-anchor="end" textLength="15.85" lengthAdjust="spacingAndGlyphs">200</text>
<line x1="260.00" y1="287.99" x2="262.40" y2="287.99" stroke="#222" stroke-width="1"/>
<text x="255.00" y="291.19" class="tk" text-anchor="end" textLength="15.85" lengthAdjust="spacingAndGlyphs">400</text>
<line x1="260.00" y1="270.33" x2="262.40" y2="270.33" stroke="#222" stroke-width="1"/>
<text x="255.00" y="273.53" class="tk" text-anchor="end" textLength="15.85" lengthAdjust="spacingAndGlyphs">600</text>
<line x1="260.00" y1="252.67" x2="262.40" y2="252.67" stroke="#222" stroke-width="1"/>
<text x="255.00" y="255.87" class="tk" text-anchor="end" textLength="15.85" lengthAdjust="spacingAndGlyphs">800</text>
<line x1="260.00" y1="235.01" x2="262.40" y2="235.01" stroke="#222" stroke-width="1"/>
<text x="255.00" y="238.21" class="tk" text-anchor="end" textLength="21.13" lengthAdjust="spacingAndGlyphs">1000</text>
<line x1="260.00" y1="217.36" x2="262.40" y2="217.36" stroke="#222" stroke-width="1"/>
<text x="255.00" y="220.56" class="tk" text-anchor="end" textLength="21.13" lengthAdjust="spacingAndGlyphs">1200</text>
<line x1="260.00" y1="199.70" x2="262.40" y2="199.70" stroke="#222" stroke-width="1"/>
<text x="255.00" y="202.90" class="tk" text-anchor="end" textLength="21.13" lengthAdjust="spacingAndGlyphs">1400</text>
<line x1="262.78" y1="323.30" x2="262.78" y2="325.70" stroke="#222" stroke-width="1"/>
<text x="262.78" y="338.00" class="tk" text-anchor="middle" textLength="13.73" lengthAdjust="spacingAndGlyphs">-20</text>
<line x1="286.30" y1="323.30" x2="286.30" y2="325.70" stroke="#222" stroke-width="1"/>
<text x="286.30" y="338.00" class="tk" text-anchor="middle" textLength="5.28" lengthAdjust="spacingAndGlyphs">0</text>
<line x1="309.82" y1="323.30" x2="309.82" y2="325.70" stroke="#222" stroke-width="1"/>
<text x="309.82" y="338.00" class="tk" text-anchor="middle" textLength="10.56" lengthAdjust="spacingAndGlyphs">20</text>
<line x1="333.34" y1="323.30" x2="333.34" y2="325.70" stroke="#222" stroke-width="1"/>
<text x="333.34" y="338.00" class="tk" text-anchor="middle" textLength="10.56" lengthAdjust="spacingAndGlyphs">40</text>
<line x1="356.86" y1="323.30" x2="356.86" y2="325.70" stroke="#222" stroke-width="1"/>
<text x="356.86" y="338.00" class="tk" text-anchor="middle" textLength="10.56" lengthAdjust="spacingAndGlyphs">60</text>
<line x1="380.38" y1="323.30" x2="380.38" y2="325.70" stroke="#222" stroke-width="1"/>
<text x="380.38" y="338.00" class="tk" text-anchor="middle" textLength="10.56" lengthAdjust="spacingAndGlyphs">80</text>
<line x1="403.90" y1="323.30" x2="403.90" y2="325.70" stroke="#222" stroke-width="1"/>
<text x="403.90" y="338.00" class="tk" text-anchor="middle" textLength="15.85" lengthAdjust="spacingAndGlyphs">100</text>
<line x1="427.42" y1="323.30" x2="427.42" y2="325.70" stroke="#222" stroke-width="1"/>
<text x="427.42" y="338.00" class="tk" text-anchor="middle" textLength="15.85" lengthAdjust="spacingAndGlyphs">120</text>
<text x="350.75" y="349.50" class="xl" text-anchor="middle">Time (min)</text>
<text x="238.90" y="187.10" class="lt">(E)</text>
<line x1="286.00" y1="310.60" x2="286.00" y2="320.20" stroke="#777" stroke-width="0.9"/>
<path d="M284.20,311.90 L286.00,309.10 L287.80,311.90 Z" fill="#333"/>
<polyline points="286.80,240.50 292.18,234.70 298.06,247.10 309.82,255.40 321.58,263.50 333.34,269.00 345.10,274.70 356.86,279.70 368.62,283.90 380.38,285.50 392.14,289.60 403.90,294.20 415.66,298.10 427.42,303.00" fill="none" stroke="#222" stroke-width="0.9"/>
<polyline points="286.80,234.60 292.18,244.20 298.06,256.80 309.82,265.50 321.58,273.20 333.34,280.20 345.10,283.60 356.86,285.20 368.62,288.30 380.38,291.60 392.14,293.60 403.90,297.10 415.66,301.00 427.42,303.20" fill="none" stroke="#222" stroke-width="0.9"/>
<line x1="292.18" y1="234.70" x2="292.18" y2="227.60" stroke="#444" stroke-width="0.9"/>
<line x1="290.58" y1="227.60" x2="293.78" y2="227.60" stroke="#111" stroke-width="1"/>
<line x1="298.06" y1="247.10" x2="298.06" y2="242.50" stroke="#444" stroke-width="0.9"/>
<line x1="296.46" y1="242.50" x2="299.66" y2="242.50" stroke="#111" stroke-width="1"/>
<line x1="309.82" y1="255.40" x2="309.82" y2="251.80" stroke="#444" stroke-width="0.9"/>
<line x1="308.22" y1="251.80" x2="311.42" y2="251.80" stroke="#111" stroke-width="1"/>
<line x1="321.58" y1="263.50" x2="321.58" y2="259.00" stroke="#444" stroke-width="0.9"/>
<line x1="319.98" y1="259.00" x2="323.18" y2="259.00" stroke="#111" stroke-width="1"/>
<line x1="333.34" y1="269.00" x2="333.34" y2="264.80" stroke="#444" stroke-width="0.9"/>
<line x1="331.74" y1="264.80" x2="334.94" y2="264.80" stroke="#111" stroke-width="1"/>
<line x1="345.10" y1="274.70" x2="345.10" y2="271.00" stroke="#444" stroke-width="0.9"/>
<line x1="343.50" y1="271.00" x2="346.70" y2="271.00" stroke="#111" stroke-width="1"/>
<line x1="356.86" y1="279.70" x2="356.86" y2="277.40" stroke="#444" stroke-width="0.9"/>
<line x1="355.26" y1="277.40" x2="358.46" y2="277.40" stroke="#111" stroke-width="1"/>
<line x1="368.62" y1="283.90" x2="368.62" y2="281.40" stroke="#444" stroke-width="0.9"/>
<line x1="367.02" y1="281.40" x2="370.22" y2="281.40" stroke="#111" stroke-width="1"/>
<line x1="380.38" y1="285.50" x2="380.38" y2="283.30" stroke="#444" stroke-width="0.9"/>
<line x1="378.78" y1="283.30" x2="381.98" y2="283.30" stroke="#111" stroke-width="1"/>
<line x1="392.14" y1="289.60" x2="392.14" y2="286.40" stroke="#444" stroke-width="0.9"/>
<line x1="390.54" y1="286.40" x2="393.74" y2="286.40" stroke="#111" stroke-width="1"/>
<line x1="286.80" y1="234.60" x2="286.80" y2="229.80" stroke="#444" stroke-width="0.9"/>
<line x1="285.20" y1="229.80" x2="288.40" y2="229.80" stroke="#111" stroke-width="1"/>
<line x1="298.06" y1="256.80" x2="298.06" y2="261.00" stroke="#444" stroke-width="0.9"/>
<line x1="296.46" y1="261.00" x2="299.66" y2="261.00" stroke="#111" stroke-width="1"/>
<line x1="309.82" y1="265.50" x2="309.82" y2="269.30" stroke="#444" stroke-width="0.9"/>
<line x1="308.22" y1="269.30" x2="311.42" y2="269.30" stroke="#111" stroke-width="1"/>
<line x1="321.58" y1="273.20" x2="321.58" y2="276.90" stroke="#444" stroke-width="0.9"/>
<line x1="319.98" y1="276.90" x2="323.18" y2="276.90" stroke="#111" stroke-width="1"/>
<line x1="333.34" y1="280.20" x2="333.34" y2="283.50" stroke="#444" stroke-width="0.9"/>
<line x1="331.74" y1="283.50" x2="334.94" y2="283.50" stroke="#111" stroke-width="1"/>
<line x1="345.10" y1="283.60" x2="345.10" y2="287.00" stroke="#444" stroke-width="0.9"/>
<line x1="343.50" y1="287.00" x2="346.70" y2="287.00" stroke="#111" stroke-width="1"/>
<line x1="356.86" y1="285.20" x2="356.86" y2="288.70" stroke="#444" stroke-width="0.9"/>
<line x1="355.26" y1="288.70" x2="358.46" y2="288.70" stroke="#111" stroke-width="1"/>
<line x1="368.62" y1="288.30" x2="368.62" y2="291.50" stroke="#444" stroke-width="0.9"/>
<line x1="367.02" y1="291.50" x2="370.22" y2="291.50" stroke="#111" stroke-width="1"/>
<line x1="380.38" y1="291.60" x2="380.38" y2="295.30" stroke="#444" stroke-width="0.9"/>
<line x1="378.78" y1="295.30" x2="381.98" y2="295.30" stroke="#111" stroke-width="1"/>
<line x1="392.14" y1="293.60" x2="392.14" y2="296.50" stroke="#444" stroke-width="0.9"/>
<line x1="390.54" y1="296.50" x2="393.74" y2="296.50" stroke="#111" stroke-width="1"/>
<polyline points="268.66,307.10 274.54,307.10 280.42,307.10" fill="none" stroke="#222" stroke-width="0.9"/>
<rect x="284.49" y="232.29" width="4.62" height="4.62" fill="#fff" stroke="#000" stroke-width="0.9"/>
<rect x="289.87" y="241.89" width="4.62" height="4.62" fill="#fff" stroke="#000" stroke-width="0.9"/>
<rect x="295.75" y="254.49" width="4.62" height="4.62" fill="#fff" stroke="#000" stroke-width="0.9"/>
<rect x="307.51" y="263.19" width="4.62" height="4.62" fill="#fff" stroke="#000" stroke-width="0.9"/>
<rect x="319.27" y="270.89" width="4.62" height="4.62" fill="#fff" stroke="#000" stroke-width="0.9"/>
<rect x="331.03" y="277.89" width="4.62" height="4.62" fill="#fff" stroke="#000" stroke-width="0.9"/>
<rect x="342.79" y="281.29" width="4.62" height="4.62" fill="#fff" stroke="#000" stroke-width="0.9"/>
<rect x="354.55" y="282.89" width="4.62" height="4.62" fill="#fff" stroke="#000" stroke-width="0.9"/>
<rect x="366.31" y="285.99" width="4.62" height="4.62" fill="#fff" stroke="#000" stroke-width="0.9"/>
<rect x="378.07" y="289.29" width="4.62" height="4.62" fill="#fff" stroke="#000" stroke-width="0.9"/>
<rect x="389.83" y="291.29" width="4.62" height="4.62" fill="#fff" stroke="#000" stroke-width="0.9"/>
<rect x="401.59" y="294.79" width="4.62" height="4.62" fill="#fff" stroke="#000" stroke-width="0.9"/>
<rect x="413.35" y="298.69" width="4.62" height="4.62" fill="#fff" stroke="#000" stroke-width="0.9"/>
<rect x="425.11" y="300.89" width="4.62" height="4.62" fill="#fff" stroke="#000" stroke-width="0.9"/>
<rect x="284.49" y="238.19" width="4.62" height="4.62" fill="#000" stroke="#000" stroke-width="0.9"/>
<rect x="289.87" y="232.39" width="4.62" height="4.62" fill="#000" stroke="#000" stroke-width="0.9"/>
<rect x="295.75" y="244.79" width="4.62" height="4.62" fill="#000" stroke="#000" stroke-width="0.9"/>
<rect x="307.51" y="253.09" width="4.62" height="4.62" fill="#000" stroke="#000" stroke-width="0.9"/>
<rect x="319.27" y="261.19" width="4.62" height="4.62" fill="#000" stroke="#000" stroke-width="0.9"/>
<rect x="331.03" y="266.69" width="4.62" height="4.62" fill="#000" stroke="#000" stroke-width="0.9"/>
<rect x="342.79" y="272.39" width="4.62" height="4.62" fill="#000" stroke="#000" stroke-width="0.9"/>
<rect x="354.55" y="277.39" width="4.62" height="4.62" fill="#000" stroke="#000" stroke-width="0.9"/>
<rect x="366.31" y="281.59" width="4.62" height="4.62" fill="#000" stroke="#000" stroke-width="0.9"/>
<rect x="378.07" y="283.19" width="4.62" height="4.62" fill="#000" stroke="#000" stroke-width="0.9"/>
<rect x="389.83" y="287.29" width="4.62" height="4.62" fill="#000" stroke="#000" stroke-width="0.9"/>
<rect x="401.59" y="291.89" width="4.62" height="4.62" fill="#000" stroke="#000" stroke-width="0.9"/>
<rect x="413.35" y="295.79" width="4.62" height="4.62" fill="#000" stroke="#000" stroke-width="0.9"/>
<rect x="425.11" y="300.69" width="4.62" height="4.62" fill="#000" stroke="#000" stroke-width="0.9"/>
<rect x="266.35" y="304.79" width="4.62" height="4.62" fill="#000" stroke="#000" stroke-width="0.9"/>
<rect x="272.23" y="304.79" width="4.62" height="4.62" fill="#000" stroke="#000" stroke-width="0.9"/>
<rect x="278.11" y="304.79" width="4.62" height="4.62" fill="#000" stroke="#000" stroke-width="0.9"/>
<line x1="384.40" y1="207.60" x2="401.60" y2="207.60" stroke="#222" stroke-width="0.9"/>
<rect x="391.00" y="205.50" width="4.20" height="4.20" fill="#fff" stroke="#000" stroke-width="0.9"/>
<text x="406.50" y="210.20" class="lg">Acute</text>
<line x1="384.40" y1="217.00" x2="401.60" y2="217.00" stroke="#222" stroke-width="0.9"/>
<rect x="391.00" y="214.90" width="4.20" height="4.20" fill="#000" stroke="#000" stroke-width="0.9"/>
<text x="406.50" y="219.60" class="lg">Chronic</text>
<path d="M656.40,200.00 H479.90 V323.30 H656.40" fill="none" stroke="#7a7a7a" stroke-width="2.0"/>
<line x1="656.40" y1="199.10" x2="656.40" y2="324.30" stroke="#333" stroke-width="1.3"/>
<line x1="477.50" y1="323.30" x2="479.90" y2="323.30" stroke="#222" stroke-width="1"/>
<text x="472.50" y="326.50" class="tk" text-anchor="end" textLength="5.28" lengthAdjust="spacingAndGlyphs">0</text>
<line x1="477.50" y1="305.69" x2="479.90" y2="305.69" stroke="#222" stroke-width="1"/>
<text x="472.50" y="308.89" class="tk" text-anchor="end" textLength="15.85" lengthAdjust="spacingAndGlyphs">200</text>
<line x1="477.50" y1="288.07" x2="479.90" y2="288.07" stroke="#222" stroke-width="1"/>
<text x="472.50" y="291.27" class="tk" text-anchor="end" textLength="15.85" lengthAdjust="spacingAndGlyphs">400</text>
<line x1="477.50" y1="270.46" x2="479.90" y2="270.46" stroke="#222" stroke-width="1"/>
<text x="472.50" y="273.66" class="tk" text-anchor="end" textLength="15.85" lengthAdjust="spacingAndGlyphs">600</text>
<line x1="477.50" y1="252.84" x2="479.90" y2="252.84" stroke="#222" stroke-width="1"/>
<text x="472.50" y="256.04" class="tk" text-anchor="end" textLength="15.85" lengthAdjust="spacingAndGlyphs">800</text>
<line x1="477.50" y1="235.23" x2="479.90" y2="235.23" stroke="#222" stroke-width="1"/>
<text x="472.50" y="238.43" class="tk" text-anchor="end" textLength="21.13" lengthAdjust="spacingAndGlyphs">1000</text>
<line x1="477.50" y1="217.61" x2="479.90" y2="217.61" stroke="#222" stroke-width="1"/>
<text x="472.50" y="220.81" class="tk" text-anchor="end" textLength="21.13" lengthAdjust="spacingAndGlyphs">1200</text>
<line x1="477.50" y1="200.00" x2="479.90" y2="200.00" stroke="#222" stroke-width="1"/>
<text x="472.50" y="203.20" class="tk" text-anchor="end" textLength="21.13" lengthAdjust="spacingAndGlyphs">1400</text>
<line x1="479.78" y1="323.30" x2="479.78" y2="325.70" stroke="#222" stroke-width="1"/>
<text x="479.78" y="338.00" class="tk" text-anchor="middle" textLength="13.73" lengthAdjust="spacingAndGlyphs">-20</text>
<line x1="503.30" y1="323.30" x2="503.30" y2="325.70" stroke="#222" stroke-width="1"/>
<text x="503.30" y="338.00" class="tk" text-anchor="middle" textLength="5.28" lengthAdjust="spacingAndGlyphs">0</text>
<line x1="526.82" y1="323.30" x2="526.82" y2="325.70" stroke="#222" stroke-width="1"/>
<text x="526.82" y="338.00" class="tk" text-anchor="middle" textLength="10.56" lengthAdjust="spacingAndGlyphs">20</text>
<line x1="550.34" y1="323.30" x2="550.34" y2="325.70" stroke="#222" stroke-width="1"/>
<text x="550.34" y="338.00" class="tk" text-anchor="middle" textLength="10.56" lengthAdjust="spacingAndGlyphs">40</text>
<line x1="573.86" y1="323.30" x2="573.86" y2="325.70" stroke="#222" stroke-width="1"/>
<text x="573.86" y="338.00" class="tk" text-anchor="middle" textLength="10.56" lengthAdjust="spacingAndGlyphs">60</text>
<line x1="597.38" y1="323.30" x2="597.38" y2="325.70" stroke="#222" stroke-width="1"/>
<text x="597.38" y="338.00" class="tk" text-anchor="middle" textLength="10.56" lengthAdjust="spacingAndGlyphs">80</text>
<line x1="620.90" y1="323.30" x2="620.90" y2="325.70" stroke="#222" stroke-width="1"/>
<text x="620.90" y="338.00" class="tk" text-anchor="middle" textLength="15.85" lengthAdjust="spacingAndGlyphs">100</text>
<line x1="644.42" y1="323.30" x2="644.42" y2="325.70" stroke="#222" stroke-width="1"/>
<text x="644.42" y="338.00" class="tk" text-anchor="middle" textLength="15.85" lengthAdjust="spacingAndGlyphs">120</text>
<text x="568.15" y="349.50" class="xl" text-anchor="middle">Time (min)</text>
<text x="456.40" y="187.10" class="lt">(F)</text>
<line x1="503.00" y1="312.10" x2="503.00" y2="322.00" stroke="#777" stroke-width="0.9"/>
<path d="M501.20,313.40 L503.00,310.60 L504.80,313.40 Z" fill="#333"/>
<polyline points="503.30,306.80 509.18,306.80 515.06,306.80 526.82,306.80 538.58,306.80 550.34,306.80 562.10,306.80 573.86,306.80 585.62,306.80 597.38,306.80 609.14,306.80 620.90,306.80 632.66,306.80 644.42,306.80" fill="none" stroke="#222" stroke-width="0.9"/>
<polyline points="503.30,307.70 509.18,307.70 515.06,307.70 526.82,307.70 538.58,307.70 550.34,307.70 562.10,307.70 573.86,307.70 585.62,307.70 597.38,307.70 609.14,307.70 620.90,307.70 632.66,307.70 644.42,307.70" fill="none" stroke="#222" stroke-width="0.9"/>
<polyline points="485.66,306.80 491.54,306.80 497.42,306.80" fill="none" stroke="#222" stroke-width="0.9"/>
<polygon points="503.30,305.06 505.94,309.60 500.66,309.60" fill="#fff" stroke="#000" stroke-width="0.9" stroke-linejoin="miter"/>
<polygon points="509.18,305.06 511.82,309.60 506.54,309.60" fill="#fff" stroke="#000" stroke-width="0.9" stroke-linejoin="miter"/>
<polygon points="515.06,305.06 517.70,309.60 512.42,309.60" fill="#fff" stroke="#000" stroke-width="0.9" stroke-linejoin="miter"/>
<polygon points="526.82,305.06 529.46,309.60 524.18,309.60" fill="#fff" stroke="#000" stroke-width="0.9" stroke-linejoin="miter"/>
<polygon points="538.58,305.06 541.22,309.60 535.94,309.60" fill="#fff" stroke="#000" stroke-width="0.9" stroke-linejoin="miter"/>
<polygon points="550.34,305.06 552.98,309.60 547.70,309.60" fill="#fff" stroke="#000" stroke-width="0.9" stroke-linejoin="miter"/>
<polygon points="562.10,305.06 564.74,309.60 559.46,309.60" fill="#fff" stroke="#000" stroke-width="0.9" stroke-linejoin="miter"/>
<polygon points="573.86,305.06 576.50,309.60 571.22,309.60" fill="#fff" stroke="#000" stroke-width="0.9" stroke-linejoin="miter"/>
<polygon points="585.62,305.06 588.26,309.60 582.98,309.60" fill="#fff" stroke="#000" stroke-width="0.9" stroke-linejoin="miter"/>
<polygon points="597.38,305.06 600.02,309.60 594.74,309.60" fill="#fff" stroke="#000" stroke-width="0.9" stroke-linejoin="miter"/>
<polygon points="609.14,305.06 611.78,309.60 606.50,309.60" fill="#fff" stroke="#000" stroke-width="0.9" stroke-linejoin="miter"/>
<polygon points="620.90,305.06 623.54,309.60 618.26,309.60" fill="#fff" stroke="#000" stroke-width="0.9" stroke-linejoin="miter"/>
<polygon points="632.66,305.06 635.30,309.60 630.02,309.60" fill="#fff" stroke="#000" stroke-width="0.9" stroke-linejoin="miter"/>
<polygon points="644.42,305.06 647.06,309.60 641.78,309.60" fill="#fff" stroke="#000" stroke-width="0.9" stroke-linejoin="miter"/>
<polygon points="503.30,304.16 505.94,308.70 500.66,308.70" fill="#000" stroke="#000" stroke-width="0.9" stroke-linejoin="miter"/>
<polygon points="509.18,304.16 511.82,308.70 506.54,308.70" fill="#000" stroke="#000" stroke-width="0.9" stroke-linejoin="miter"/>
<polygon points="515.06,304.16 517.70,308.70 512.42,308.70" fill="#000" stroke="#000" stroke-width="0.9" stroke-linejoin="miter"/>
<polygon points="526.82,304.16 529.46,308.70 524.18,308.70" fill="#000" stroke="#000" stroke-width="0.9" stroke-linejoin="miter"/>
<polygon points="538.58,304.16 541.22,308.70 535.94,308.70" fill="#000" stroke="#000" stroke-width="0.9" stroke-linejoin="miter"/>
<polygon points="550.34,304.16 552.98,308.70 547.70,308.70" fill="#000" stroke="#000" stroke-width="0.9" stroke-linejoin="miter"/>
<polygon points="562.10,304.16 564.74,308.70 559.46,308.70" fill="#000" stroke="#000" stroke-width="0.9" stroke-linejoin="miter"/>
<polygon points="573.86,304.16 576.50,308.70 571.22,308.70" fill="#000" stroke="#000" stroke-width="0.9" stroke-linejoin="miter"/>
<polygon points="585.62,304.16 588.26,308.70 582.98,308.70" fill="#000" stroke="#000" stroke-width="0.9" stroke-linejoin="miter"/>
<polygon points="597.38,304.16 600.02,308.70 594.74,308.70" fill="#000" stroke="#000" stroke-width="0.9" stroke-linejoin="miter"/>
<polygon points="609.14,304.16 611.78,308.70 606.50,308.70" fill="#000" stroke="#000" stroke-width="0.9" stroke-linejoin="miter"/>
<polygon points="620.90,304.16 623.54,308.70 618.26,308.70" fill="#000" stroke="#000" stroke-width="0.9" stroke-linejoin="miter"/>
<polygon points="632.66,304.16 635.30,308.70 630.02,308.70" fill="#000" stroke="#000" stroke-width="0.9" stroke-linejoin="miter"/>
<polygon points="644.42,304.16 647.06,308.70 641.78,308.70" fill="#000" stroke="#000" stroke-width="0.9" stroke-linejoin="miter"/>
<polygon points="485.66,304.16 488.30,308.70 483.02,308.70" fill="#000" stroke="#000" stroke-width="0.9" stroke-linejoin="miter"/>
<polygon points="491.54,304.16 494.18,308.70 488.90,308.70" fill="#000" stroke="#000" stroke-width="0.9" stroke-linejoin="miter"/>
<polygon points="497.42,304.16 500.06,308.70 494.78,308.70" fill="#000" stroke="#000" stroke-width="0.9" stroke-linejoin="miter"/>
<line x1="601.70" y1="207.90" x2="618.90" y2="207.90" stroke="#222" stroke-width="0.9"/>
<polygon points="610.40,205.50 612.80,209.63 608.00,209.63" fill="#fff" stroke="#000" stroke-width="0.9" stroke-linejoin="miter"/>
<text x="623.80" y="210.50" class="lg">Acute</text>
<line x1="601.70" y1="217.30" x2="618.90" y2="217.30" stroke="#222" stroke-width="0.9"/>
<polygon points="610.40,214.90 612.80,219.03 608.00,219.03" fill="#000" stroke="#000" stroke-width="0.9" stroke-linejoin="miter"/>
<text x="623.80" y="219.90" class="lg">Chronic</text>
<text class="yl" transform="translate(15.2,89.8) rotate(-90)" text-anchor="middle">Evoked DA Efflux (% Baseline)</text>
<text class="yl" transform="translate(12.2,261.7) rotate(-90)" text-anchor="middle">DAT Apparent Affinity, <tspan font-style="italic">K</tspan><tspan font-style="italic" font-size="8.2px" dy="2.4">m</tspan><tspan dy="-2.4" dx="1.4"> (nM)</tspan></text>
</svg>
</body></html>
